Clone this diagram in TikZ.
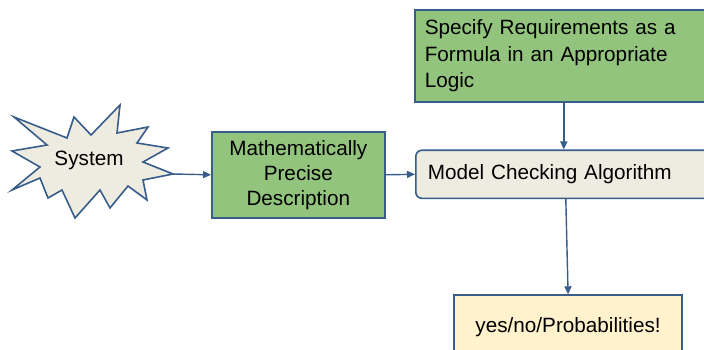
\documentclass[tikz,border=0pt]{standalone}
\usepackage{fontspec}
\setmainfont{Liberation Sans}
\usetikzlibrary{arrows.meta}

\definecolor{edgeblue}{HTML}{385D8A}
\definecolor{boxgreen}{HTML}{93C47D}
\definecolor{ivory}{HTML}{EEECE1}
\definecolor{paleyellow}{HTML}{FFF2CC}

\tikzset{
  every node/.style={font=\fontsize{20.7}{25}\selectfont, text=black},
  panel/.style={draw=edgeblue, line width=1.6pt, inner ysep=0pt},
  greenbox/.style={panel, fill=boxgreen},
  ivorybox/.style={panel, fill=ivory, rounded corners=6pt},
  yellowbox/.style={panel, fill=paleyellow},
  arr/.style={draw=edgeblue, line width=1.4pt,
              -{Triangle[length=8pt,width=7pt]}}
}

\begin{document}
\begin{tikzpicture}[x=1pt, y=-1pt]
  \useasboundingbox (0,0) rectangle (704,350);
  \clip (0,0) rectangle (704,350);

  % explosion shape around "System"
  \draw[edgeblue, line width=1.6pt, fill=ivory, line join=miter]
    (14,117) -- (67,138) -- (74,117) -- (91,135) -- (120,105) -- (117,133)
    -- (148,127) -- (137,143) -- (168,148) -- (143,162) -- (173,174)
    -- (143,180) -- (147,200) -- (128,186) -- (110,208) -- (100,190)
    -- (75,218) -- (62,190) -- (48,198) -- (40,178) -- (12,190)
    -- (40,167) -- (12,151) -- (47,145) -- cycle;
  \node (sys) at (89,160) {System};
  \coordinate (systip) at (173,174);

  % boxes
  \node[greenbox, anchor=north west, minimum width=298pt, minimum height=92pt,
        inner xsep=10pt, text width=278pt, align=left,
        font=\fontsize{20.7}{26.5}\selectfont]
    (spec) at (414,9)
    {Specify Requirements as a\\Formula in an Appropriate\\Logic};

  \node[greenbox, minimum width=173pt, minimum height=86pt, align=center]
    (model-desc) at (298.3,174.8)
    {Mathematically\\Precise\\Description};

  \node[ivorybox, anchor=north west, minimum width=300pt, minimum height=48pt,
        inner xsep=12pt, text width=276pt, align=left]
    (mc) at (415,149.5) {Model Checking Algorithm};

  \node[yellowbox, anchor=north west, minimum width=228pt, minimum height=64pt]
    (result) at (453.3,294.3) {yes/no/Probabilities!};

  % connectors
  \draw[arr] (systip) -- (model-desc.west);
  \draw[arr] (model-desc.east) -- (mc.west);
  \draw[arr] (spec.south) -- (mc.north -| spec.south);
  \draw[arr] (mc.south) -- (result.north);
\end{tikzpicture}
\end{document}
